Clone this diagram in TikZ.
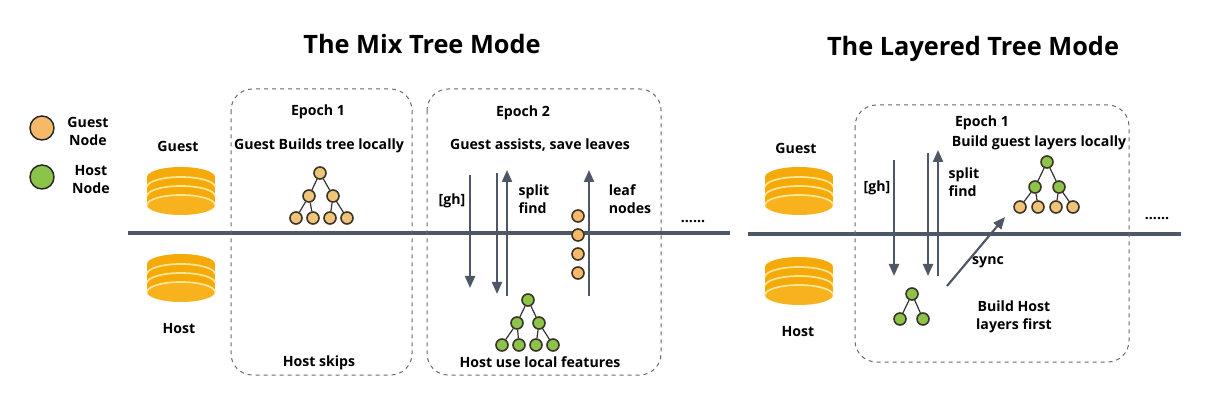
\documentclass[tikz,border=0pt]{standalone}
\usepackage{fontspec}
\setmainfont{Open Sans}
\usetikzlibrary{arrows.meta}

\definecolor{lineGray}{RGB}{78,87,101}
\definecolor{boxGray}{RGB}{105,105,105}
\definecolor{dbOrange}{RGB}{246,170,10}
\definecolor{dbTop}{RGB}{247,178,30}
\definecolor{dbLight}{RGB}{255,230,150}
\definecolor{guestFill}{RGB}{240,196,120}
\definecolor{guestLegend}{RGB}{245,185,105}
\definecolor{hostFill}{RGB}{140,196,74}
\definecolor{nodeRim}{RGB}{60,52,38}

\tikzset{every picture/.style={line width=0.75pt}}
\tikzset{
  lbl/.style={font=\bfseries\fontsize{10.6}{13.5}\selectfont, inner sep=0pt, align=center},
  ttl/.style={font=\bfseries\fontsize{19}{22}\selectfont, inner sep=0pt},
  gnode/.style={circle, draw=nodeRim, fill=guestFill, line width=1.2pt, minimum size=9pt, inner sep=0pt},
  hnode/.style={gnode, fill=hostFill},
  tedge/.style={draw=black!80, line width=0.9pt, shorten <=-0.5pt, shorten >=-0.5pt},
  flow/.style={draw=lineGray, line width=1.6pt, -{Triangle[length=9pt,width=7.5pt]}},
  divider/.style={draw=lineGray, line width=2.5pt},
  epochbox/.style={draw=boxGray, dashed, rounded corners=16pt, line width=0.75pt},
  db/.pic={
    \fill[dbOrange] (-34,-14) rectangle (34,14);
    \fill[dbOrange] (0,14) ellipse (34 and 10);
    \fill[dbTop] (0,-14) ellipse (34 and 10);
    \draw[dbLight, line width=1.3pt] (-34,-14) arc (180:0:34 and 10);
    \draw[dbLight, line width=1.3pt] (-34,-5) arc (180:0:34 and 10);
    \draw[dbLight, line width=1.3pt] (-34,4) arc (180:0:34 and 10);
  }
}

\begin{document}
\begin{tikzpicture}[x=0.75pt,y=0.75pt,yscale=-1,xscale=1]
\useasboundingbox (0,0) rectangle (1212,402);

%Titles
\node[ttl] (mixTitle) at (422,44) {The Mix Tree Mode};
\node[ttl] (layTitle) at (973,49) {The Layered Tree Mode};

%Legend
\node[circle, draw=black!85, line width=1.1pt, fill=guestLegend, minimum size=18pt, inner sep=0pt] (legGuest) at (42,128) {};
\node[lbl] (legGuestTxt) at (88,131) {Guest\\Node};
\node[circle, draw=black!85, line width=1.1pt, fill=hostFill, minimum size=18pt, inner sep=0pt] (legHost) at (42,177) {};
\node[lbl] (legHostTxt) at (91,180) {Host\\Node};

%Divider lines
\draw[divider] (128,233) -- (730,233);
\draw[divider] (748,234) -- (1181,234);

%Parties, mix mode
\node[lbl] (mixGuest) at (178,146) {Guest};
\pic at (181,191) {db};
\pic at (181,278) {db};
\node[lbl] (mixHost) at (179,329) {Host};

%Epoch 1 box
\draw[epochbox] (231,89) rectangle (412,375);
\node[lbl] (ep1) at (318,112) {Epoch 1};
\node[lbl] (ep1top) at (319,146) {Guest Builds tree locally};
\node[lbl] (ep1bot) at (319,363) {Host skips};
%guest tree
\node[gnode] (ta) at (320,173) {};
\node[gnode] (tb) at (309,196) {};
\node[gnode] (tc) at (333,196) {};
\node[gnode] (td) at (296,218) {};
\node[gnode] (te) at (313,218) {};
\node[gnode] (tf) at (330,218) {};
\node[gnode] (tg) at (347,218) {};
\draw[tedge] (ta) -- (tb) (ta) -- (tc) (tb) -- (td) (tb) -- (te) (tc) -- (tf) (tc) -- (tg);

%Epoch 2 box
\draw[epochbox] (427,89) rectangle (661,375);
\node[lbl] (ep2) at (523,113) {Epoch 2};
\node[lbl] (ep2top) at (540,145) {Guest assists, save leaves};
\node[lbl] (ep2bot) at (540,362) {Host use local features};
%arrows
\coordinate (ghA) at (470,175); \coordinate (ghB) at (470,288);
\coordinate (sfA) at (497,173); \coordinate (sfB) at (497,294);
\coordinate (sfC) at (507,296); \coordinate (sfD) at (507,170);
\coordinate (lfA) at (589,296); \coordinate (lfB) at (589,170);
\draw[flow] (ghA) -- (ghB);
\draw[flow] (sfA) -- (sfB);
\draw[flow] (sfC) -- (sfD);
\draw[flow] (lfA) -- (lfB);
\node[lbl] (gh1) at (452,201) {[gh]};
\node[lbl, align=left] (sf1) at (534,199) {split\\find};
\node[lbl, align=left] (lf1) at (630,199) {leaf\\nodes};
%leaf column
\node[gnode, fill=guestLegend] (lc1) at (578,216) {};
\node[gnode, fill=guestLegend] (lc2) at (578,235) {};
\node[gnode, fill=guestLegend] (lc3) at (578,254) {};
\node[gnode, fill=guestLegend] (lc4) at (578,273) {};
%host tree
\node[hnode] (ha) at (528,300) {};
\node[hnode] (hb) at (517,323) {};
\node[hnode] (hc) at (539,323) {};
\node[hnode] (hd) at (502,345) {};
\node[hnode] (he) at (519,345) {};
\node[hnode] (hf) at (536,345) {};
\node[hnode] (hg) at (553,345) {};
\draw[tedge] (ha) -- (hb) (ha) -- (hc) (hb) -- (hd) (hb) -- (he) (hc) -- (hf) (hc) -- (hg);
\node[lbl] (more1) at (693,222) {......};

%Parties, layered mode
\node[lbl] (layGuest) at (796,148) {Guest};
\pic at (799,191) {db};
\pic at (799,281) {db};
\node[lbl] (layHost) at (798,332) {Host};

%Layered epoch box
\draw[epochbox] (855,105) rectangle (1129,362);
\node[lbl] (ep3) at (982,123) {Epoch 1};
\node[lbl] (ep3top) at (1039,143) {Build guest layers locally};
%arrows
\coordinate (ghC) at (894,160); \coordinate (ghD) at (894,276);
\coordinate (sfE) at (928,153); \coordinate (sfF) at (928,276);
\coordinate (sfG) at (938,276); \coordinate (sfH) at (938,150);
\draw[flow] (ghC) -- (ghD);
\draw[flow] (sfE) -- (sfF);
\draw[flow] (sfG) -- (sfH);
\node[lbl] (gh2) at (877,188) {[gh]};
\node[lbl, align=left] (sf2) at (964,182) {split\\find};
%mixed tree
\node[hnode] (ma) at (1047,162) {};
\node[hnode] (mb) at (1035,187) {};
\node[hnode] (mc) at (1059,187) {};
\node[gnode] (md) at (1020,207) {};
\node[gnode] (me) at (1038,207) {};
\node[gnode] (mf) at (1056,207) {};
\node[gnode] (mg) at (1073,207) {};
\draw[tedge] (ma) -- (mb) (ma) -- (mc) (mb) -- (md) (mb) -- (me) (mc) -- (mf) (mc) -- (mg);
%host layers
\node[hnode] (sa) at (912,294) {};
\node[hnode] (sb) at (900,319) {};
\node[hnode] (sc) at (923,319) {};
\draw[tedge] (sa) -- (sb) (sa) -- (sc);
\coordinate (syA) at (947,286); \coordinate (syB) at (1005,217);
\draw[flow] (syA) -- (syB);
\node[lbl] (sync) at (988,262) {sync};
\node[lbl] (hostFirst) at (1014,317) {Build Host\\layers first};
\node[lbl] (more2) at (1157,219) {......};

\end{tikzpicture}
\end{document}
